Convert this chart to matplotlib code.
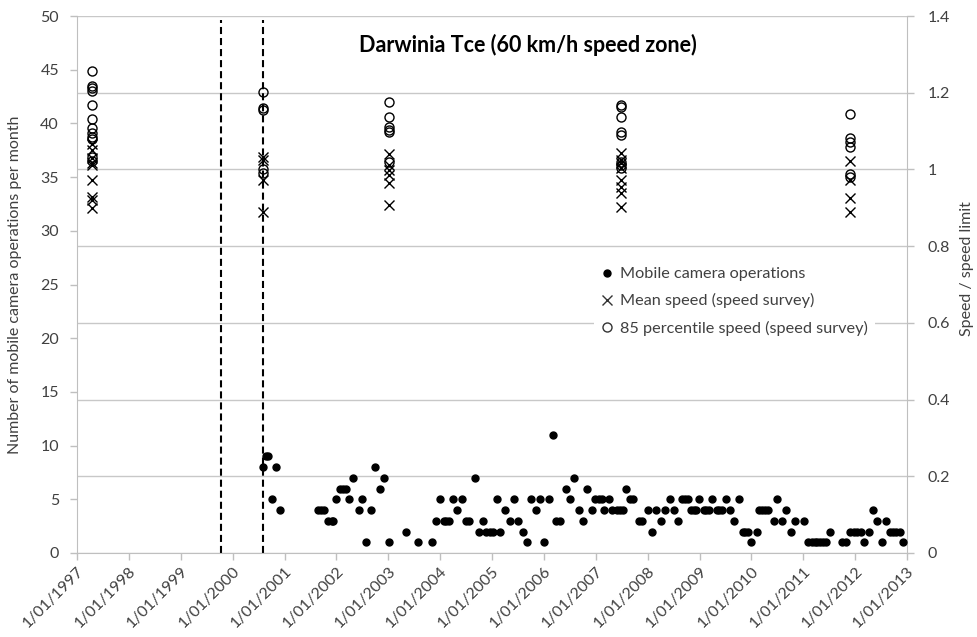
import matplotlib
matplotlib.use('Agg')
import matplotlib.pyplot as plt
from matplotlib.lines import Line2D

plt.rcParams['font.family'] = ['Lato', 'DejaVu Sans']

# mobile camera operations per month (decimal year, count)
cam_dates = [2000.58, 2000.64, 2000.69, 2000.75, 2000.84, 2000.91,
             2001.65, 2001.71, 2001.77, 2001.84, 2001.91, 2001.94, 2001.99,
             2002.07, 2002.13, 2002.18, 2002.25, 2002.33, 2002.43, 2002.50,
             2002.58, 2002.67, 2002.75, 2002.84, 2002.92, 2003.01, 2003.34,
             2003.58, 2003.84, 2003.92, 2003.99, 2004.08, 2004.12, 2004.17,
             2004.25, 2004.32, 2004.42, 2004.50, 2004.56, 2004.67, 2004.75,
             2004.83, 2004.89, 2004.96, 2005.02, 2005.10, 2005.16, 2005.25,
             2005.34, 2005.42, 2005.50, 2005.59, 2005.68, 2005.76, 2005.84,
             2005.92, 2006.00, 2006.09, 2006.17, 2006.24, 2006.32, 2006.42,
             2006.50, 2006.58, 2006.67, 2006.76, 2006.84, 2006.92, 2006.99,
             2007.06, 2007.12, 2007.16, 2007.26, 2007.32, 2007.40, 2007.46,
             2007.53, 2007.59, 2007.66, 2007.72, 2007.84, 2007.90, 2008.01,
             2008.09, 2008.17, 2008.25, 2008.34, 2008.43, 2008.51, 2008.59,
             2008.67, 2008.73, 2008.78, 2008.84, 2008.89, 2008.93, 2008.99,
             2009.08, 2009.13, 2009.18, 2009.25, 2009.33, 2009.38, 2009.43,
             2009.51, 2009.58, 2009.67, 2009.76, 2009.83, 2009.88, 2009.93,
             2010.00, 2010.10, 2010.15, 2010.20, 2010.26, 2010.32, 2010.43,
             2010.50, 2010.59, 2010.67, 2010.76, 2010.85, 2011.01, 2011.09,
             2011.16, 2011.22, 2011.27, 2011.32, 2011.38, 2011.43, 2011.51,
             2011.75, 2011.83, 2011.91, 2011.98, 2012.04, 2012.11, 2012.17,
             2012.26, 2012.34, 2012.43, 2012.51, 2012.59, 2012.67, 2012.73,
             2012.79, 2012.86, 2012.92]
cam_counts = [8, 9, 9, 5, 8, 4,
              4, 4, 4, 3, 3, 3, 5,
              6, 6, 6, 5, 7, 4, 5,
              1, 4, 8, 6, 7, 1, 2,
              1, 1, 3, 5, 3, 3, 3,
              5, 4, 5, 3, 3, 7, 2,
              3, 2, 2, 2, 5, 2, 4,
              3, 5, 3, 2, 1, 5, 4,
              5, 1, 5, 11, 3, 3, 6,
              5, 7, 4, 3, 6, 4, 5,
              5, 5, 4, 5, 4, 4, 4,
              4, 6, 5, 5, 3, 3, 4,
              2, 4, 3, 4, 5, 4, 3,
              5, 5, 5, 4, 4, 4, 5,
              4, 4, 4, 5, 4, 4, 4,
              5, 4, 3, 5, 2, 2, 2,
              1, 2, 4, 4, 4, 4, 3,
              5, 3, 4, 2, 3, 3, 1,
              1, 1, 1, 1, 1, 1, 2,
              1, 1, 2, 2, 2, 2, 1,
              2, 4, 3, 1, 3, 2, 2,
              2, 2, 1]

# speed surveys (speed / speed limit)
survey_dates = [1997.29, 2000.58, 2003.01, 2007.48, 2011.91]
mean_speed = [
    [1.065, 1.051, 1.029, 1.016, 1.011, 0.972, 0.929, 0.920, 0.899],
    [1.033, 1.025, 0.972, 0.890],
    [1.039, 1.011, 0.998, 0.985, 0.964, 0.907],
    [1.042, 1.025, 1.016, 1.005, 0.972, 0.955, 0.938, 0.903],
    [1.022, 0.972, 0.925, 0.890],
]
p85_speed = [
    [1.257, 1.217, 1.211, 1.205, 1.168, 1.131, 1.107, 1.094, 1.085, 1.079, 1.033, 1.022],
    [1.201, 1.159, 1.155, 1.000, 0.990],
    [1.175, 1.137, 1.111, 1.103, 1.098, 1.020],
    [1.168, 1.162, 1.136, 1.097, 1.090, 1.020, 1.011, 1.003],
    [1.144, 1.081, 1.071, 1.059, 0.988, 0.981],
]

event_dates = [1999.78, 2000.58]
years = list(range(1997, 2014))
year_labels = ['1/01/%d' % y for y in years]
left_ticks = list(range(0, 51, 5))
right_ticks = [0, 0.2, 0.4, 0.6, 0.8, 1.0, 1.2, 1.4]

axis_grey = '#bfbfbf'
text_grey = '#404040'

fig = plt.figure(figsize=(9.78, 6.37), dpi=100)
ax1 = fig.add_axes([77/978, 1 - 553/637, 830/978, 537/637])
ax2 = ax1.twinx()
ax1.set_zorder(2)
ax2.set_zorder(1)
ax1.patch.set_visible(False)

# right axis: gridlines + speed points
for d, m, p in zip(survey_dates, mean_speed, p85_speed):
    ax2.plot([d]*len(m), m, 'x', color='black', ms=6.5, mew=1, ls='none')
    ax2.plot([d]*len(p), p, 'o', mfc='none', mec='black', ms=6.5, mew=1, ls='none')
ax2.set_ylim(0, 1.4)
ax2.set_yticks(right_ticks)
ax2.set_yticklabels(['%g' % t for t in right_ticks])
ax2.grid(axis='y', color='#c8c8c8', lw=1)
ax2.set_ylabel('Speed / speed limit', fontsize=11.5, color=text_grey)
ax2.yaxis.set_label_coords(1.064, 0.53)

# left axis: camera operations
ax1.plot(cam_dates, cam_counts, 'o', color='black', ms=5, ls='none')
ax1.vlines(event_dates, 0, 49.6, colors='black', linestyles=(0, (3.4, 1.9)), lw=1.5)
ax1.set_ylim(0, 50)
ax1.set_yticks(left_ticks)
ax1.set_xlim(1997, 2013)
ax1.set_xticks(years)
ax1.set_xticklabels(year_labels, rotation=45, ha='right', rotation_mode='anchor')
ax1.set_ylabel('Number of mobile camera operations per month', fontsize=11.5, color=text_grey)
ax1.yaxis.set_label_coords(-0.066, 0.5)

for ax in (ax1, ax2):
    for s in ax.spines.values():
        s.set_visible(False)
    ax.tick_params(direction='out', length=5, color=axis_grey, labelsize=11.5,
                   labelcolor=text_grey, width=1)
ax1.spines['left'].set_visible(True)
ax1.spines['left'].set_color(axis_grey)
ax1.spines['bottom'].set_visible(True)
ax1.spines['bottom'].set_color(axis_grey)
ax2.spines['right'].set_visible(True)
ax2.spines['right'].set_color(axis_grey)
ax1.tick_params(axis='x', pad=3)
ax1.tick_params(axis='y', pad=8)
ax2.tick_params(axis='y', pad=10)

ax1.text(0.543, 0.946, 'Darwinia Tce (60 km/h speed zone)', transform=ax1.transAxes,
         ha='center', va='center', fontsize=15.5, fontweight='bold', color='black')

handles = [
    Line2D([], [], marker='o', color='black', ms=5, ls='none'),
    Line2D([], [], marker='x', color='black', ms=6.5, mew=1, ls='none', alpha=0.8),
    Line2D([], [], marker='o', mfc='none', mec='black', ms=6.5, mew=1, ls='none', alpha=0.8),
]
labels = ['Mobile camera operations', 'Mean speed (speed survey)',
          '85 percentile speed (speed survey)']
leg = ax1.legend(handles, labels, loc='upper right', bbox_to_anchor=(0.961, 0.545),
                 frameon=True, fancybox=False, framealpha=1, edgecolor='none',
                 facecolor='white', fontsize=11.7, labelspacing=0.75,
                 handlelength=0.8, handletextpad=0.4, borderpad=0.4, borderaxespad=0)
for t in leg.get_texts():
    t.set_color(text_grey)

fig.savefig('out.png', dpi=100)
